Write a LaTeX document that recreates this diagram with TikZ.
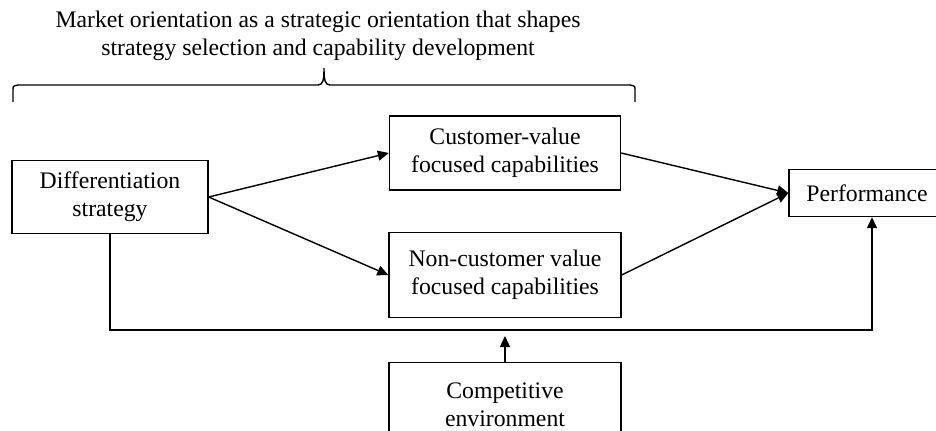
\documentclass[tikz,border=0pt]{standalone}
\usepackage{fontspec}
\setmainfont{Liberation Serif}
\usetikzlibrary{arrows.meta}

\begin{document}
\begin{tikzpicture}[x=0.02cm,y=-0.02cm,line width=0.8pt,
		box/.style={draw,align=center,inner sep=0pt,font=\fontsize{13.5}{16}\selectfont},
		arr/.style={-{Triangle[length=0.22cm,width=0.2cm]}}]
		\useasboundingbox (0,0) rectangle (936,430);
		% Title and brace
		\node[align=center,font=\fontsize{13.5}{16}\selectfont] (title) at (318,36) {Market orientation as a strategic orientation that shapes\\strategy selection and capability development};
		\draw (13,102) -- (13,90) .. controls (13,86) .. (18,85) -- (318,85) .. controls (323,85) and (324,80) .. (324,68)
			.. controls (324,80) and (325,85) .. (330,85) -- (630,85) .. controls (635,86) .. (635,90) -- (635,102);
		% Boxes
		\node[box,minimum width=3.92cm,minimum height=1.46cm] (diff) at (110,197) {Differentiation\\strategy};
		\node[box,minimum width=4.62cm,minimum height=1.48cm] (cust) at (505,153) {Customer-value\\focused capabilities};
		\node[box,minimum width=4.64cm,minimum height=1.7cm] (noncust) at (505,275) {Non-customer value\\focused capabilities};
		\node[box,minimum width=3.12cm,minimum height=0.94cm] (perf) at (867,193) {Performance};
		\node[box,minimum width=4.64cm,minimum height=1.7cm] (comp) at (505,405) {Competitive\\environment};
		% Connectors
		\coordinate (corner) at (872,330);
		\draw[arr] (diff.east) -- (cust.west);
		\draw[arr] (diff.east) -- (noncust.west);
		\draw[arr] (cust.east) -- (perf.west);
		\draw[arr] (noncust.east) -- (perf.west);
		\draw[arr] (diff.south) |- (corner) -- (corner |- perf.south);
		\draw[arr,shorten >=0.12cm] (comp.north) -- (comp.north |- corner);
	\end{tikzpicture}
\end{document}
